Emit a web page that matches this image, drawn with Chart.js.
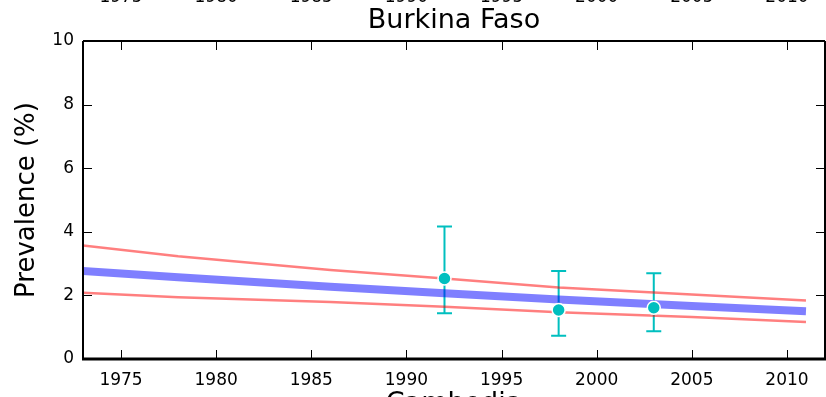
<!DOCTYPE html>
<html><head><meta charset="utf-8">
<script src="https://cdn.jsdelivr.net/npm/chart.js@4"></script>
<style>html,body{margin:0;padding:0;background:#fff;} #wrap{width:826px;height:397px;position:relative;}</style>
</head><body><div id="wrap"><canvas id="c" width="826" height="397"></canvas></div>
<script>
const chartTitle = 'Burkina Faso';
const nextPanelTitle = 'Cambodia';
const yAxisTitle = 'Prevalence (%)';
const curveYears = [1973, 1978, 1986, 1992, 1998, 2005, 2011];
const medianValues = [2.77, 2.57, 2.27, 2.07, 1.87, 1.67, 1.50];
const upperValues = [3.57, 3.23, 2.80, 2.53, 2.25, 2.03, 1.84];
const lowerValues = [2.08, 1.94, 1.79, 1.64, 1.47, 1.32, 1.16];
const surveyYears = [1992, 1998, 2003];
const surveyValues = [2.53, 1.54, 1.61];
const surveyHigh = [4.17, 2.77, 2.70];
const surveyLow = [1.44, 0.73, 0.87];
const xTickValues = [1975, 1980, 1985, 1990, 1995, 2000, 2005, 2010];
const yTickValues = [0, 2, 4, 6, 8, 10];

const FONT = "'DejaVu Sans', sans-serif";
const pts = (xs, ys) => xs.map((x, i) => ({x: x, y: ys[i]}));

const decor = {
  id: 'decor',
  beforeDatasetsDraw(chart) {
    const ctx = chart.ctx, xs = chart.scales.x, ys = chart.scales.y;
    ctx.save();
    ctx.strokeStyle = '#00BFBF';
    ctx.lineWidth = 2;
    surveyYears.forEach((yr, i) => {
      const x = xs.getPixelForValue(yr);
      const yh = ys.getPixelForValue(surveyHigh[i]);
      const yl = ys.getPixelForValue(surveyLow[i]);
      ctx.beginPath();
      ctx.moveTo(x, yh); ctx.lineTo(x, yl);
      ctx.moveTo(x - 7.5, yh); ctx.lineTo(x + 7.5, yh);
      ctx.moveTo(x - 7.5, yl); ctx.lineTo(x + 7.5, yl);
      ctx.stroke();
    });
    ctx.restore();
  },
  afterDraw(chart) {
    const ctx = chart.ctx, a = chart.chartArea, xs = chart.scales.x, ys = chart.scales.y;
    ctx.save();
    ctx.strokeStyle = '#000';
    ctx.lineWidth = 1;
    ctx.beginPath();
    xTickValues.forEach(v => {
      const x = Math.round(xs.getPixelForValue(v)) + 0.5;
      ctx.moveTo(x, a.bottom); ctx.lineTo(x, a.bottom - 9);
      ctx.moveTo(x, a.top); ctx.lineTo(x, a.top + 9);
    });
    yTickValues.forEach(v => {
      const y = Math.round(ys.getPixelForValue(v)) + 0.5;
      ctx.moveTo(a.left, y); ctx.lineTo(a.left + 9, y);
      ctx.moveTo(a.right, y); ctx.lineTo(a.right - 9, y);
    });
    ctx.stroke();
    ctx.lineWidth = 2;
    ctx.beginPath();
    ctx.moveTo(a.left, a.top); ctx.lineTo(a.right, a.top);
    ctx.moveTo(a.left, a.top); ctx.lineTo(a.left, a.bottom);
    ctx.moveTo(a.right, a.top); ctx.lineTo(a.right, a.bottom);
    ctx.stroke();
    ctx.lineWidth = 3;
    ctx.beginPath();
    ctx.moveTo(a.left - 1, a.bottom); ctx.lineTo(a.right + 1, a.bottom);
    ctx.stroke();
    ctx.fillStyle = '#000';
    ctx.textAlign = 'center';
    ctx.textBaseline = 'alphabetic';
    ctx.font = '17px ' + FONT;
    xTickValues.forEach(v => {
      const x = xs.getPixelForValue(v);
      ctx.fillText(String(v), x, 385);   // this panel's x tick labels
      ctx.fillText(String(v), x, 2);     // clipped labels of the panel above
    });
    const cx = (a.left + a.right) / 2;
    ctx.font = '27px ' + FONT;
    ctx.fillText(chartTitle, cx, 28);
    ctx.fillText(nextPanelTitle, cx, 411);
    ctx.restore();
  }
};

new Chart(document.getElementById('c'), {
  type: 'line',
  data: {
    datasets: [
      {data: pts(surveyYears, surveyValues), showLine: false, pointRadius: 6.5, pointBackgroundColor: '#00BFBF',
       pointBorderColor: '#ffffff', pointBorderWidth: 1.5, order: 0},
      {data: pts(curveYears, medianValues), borderColor: 'rgba(0,0,255,0.5)', borderWidth: 8, pointRadius: 0, tension: 0, order: 1},
      {data: pts(curveYears, upperValues), borderColor: 'rgba(255,0,0,0.5)', borderWidth: 2.5, pointRadius: 0, tension: 0, order: 2},
      {data: pts(curveYears, lowerValues), borderColor: 'rgba(255,0,0,0.5)', borderWidth: 2.5, pointRadius: 0, tension: 0, order: 2}
    ]
  },
  options: {
    responsive: false,
    animation: false,
    layout: {autoPadding: false, padding: {top: 41, right: 1, left: 0, bottom: 0}},
    plugins: {
      legend: {display: false},
      tooltip: {enabled: false},
      title: {display: false}
    },
    scales: {
      x: {
        type: 'linear', min: 1973, max: 2012,
        afterBuildTicks: s => { s.ticks = xTickValues.map(v => ({value: v})); },
        afterFit: s => { s.height = 38; s.paddingLeft = 0; s.paddingRight = 0; },
        grid: {display: false, drawTicks: false},
        border: {display: false},
        ticks: {display: false}
      },
      y: {
        min: 0, max: 10,
        afterBuildTicks: s => { s.ticks = yTickValues.map(v => ({value: v})); },
        afterFit: s => { s.width = 83; s.paddingTop = 0; s.paddingBottom = 0; },
        grid: {display: false, drawTicks: false},
        border: {display: false},
        ticks: {color: '#000', font: {family: FONT, size: 17}, padding: 9},
        title: {display: true, text: yAxisTitle, color: '#000', font: {family: FONT, size: 26}, padding: {top: 12, bottom: 0}}
      }
    }
  },
  plugins: [decor]
});
</script>
</body></html>
